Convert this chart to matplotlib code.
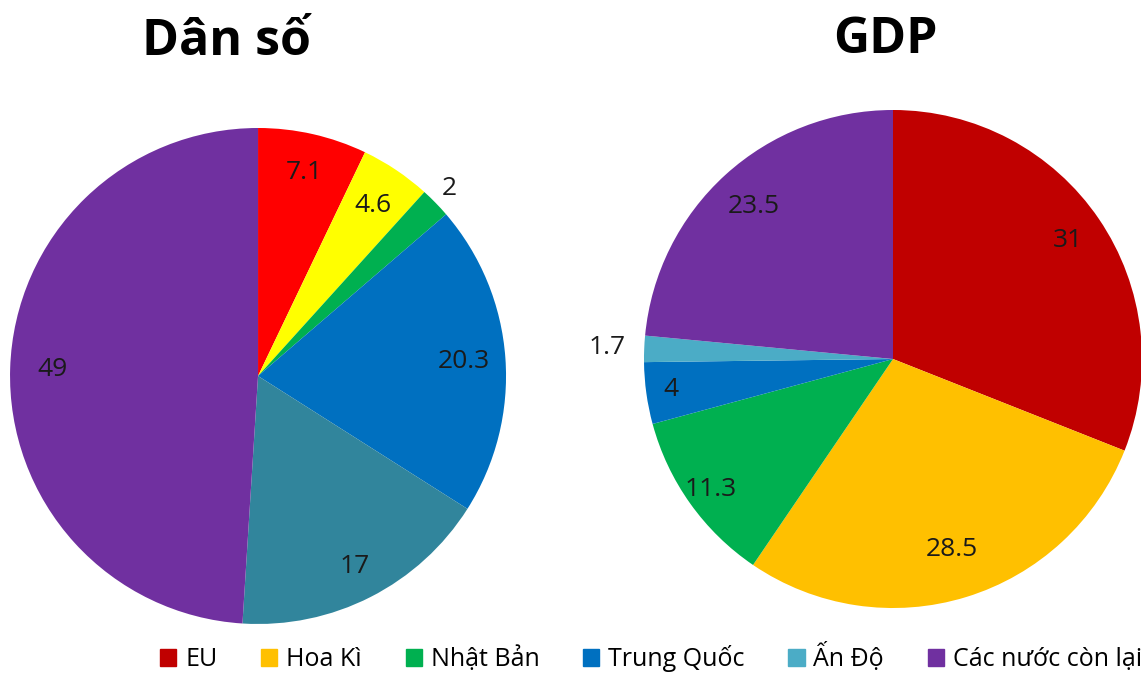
import numpy as np
import matplotlib
matplotlib.use("Agg")
import matplotlib.pyplot as plt
from matplotlib.patches import Patch

plt.rcParams["font.family"] = ["Open Sans", "DejaVu Sans"]

categories = ["EU", "Hoa Kì", "Nhật Bản", "Trung Quốc", "Ấn Độ", "Các nước còn lại"]
dan_so = [7.1, 4.6, 2, 20.3, 17, 49]
gdp = [31, 28.5, 11.3, 4, 1.7, 23.5]
dan_so_labels = ["7.1", "4.6", "2", "20.3", "17", "49"]
gdp_labels = ["31", "28.5", "11.3", "4", "1.7", "23.5"]

colors_left = ["#FF0000", "#FFFF00", "#00B050", "#0070C0", "#31859C", "#7030A0"]
colors_right = ["#C00000", "#FFC000", "#00B050", "#0070C0", "#4BACC6", "#7030A0"]

# khoảng cách nhãn (theo bán kính)
dist_left = [0.84, 0.83, 1.08, 0.83, 0.86, 0.83]
dist_right = [0.85, 0.8, 0.9, 0.9, 1.15, 0.83]

fig = plt.figure(figsize=(11.41, 6.74), dpi=100)
ax1 = fig.add_axes([0.0088, 0.0742, 0.4347, 0.7359])
ax2 = fig.add_axes([0.5644, 0.0979, 0.4365, 0.7389])


def draw_pie(ax, values, labels, colors, dists):
    wedges, _ = ax.pie(values, colors=colors, startangle=90, counterclock=False,
                       wedgeprops=dict(linewidth=0))
    for w, lab, d in zip(wedges, labels, dists):
        ang = np.deg2rad((w.theta1 + w.theta2) / 2)
        ax.text(d * np.cos(ang), d * np.sin(ang), lab, ha="center", va="center",
                fontsize=19, color="#1a1a1a")
    ax.set_xlim(-1, 1)
    ax.set_ylim(-1, 1)
    ax.set_aspect("equal")
    ax.axis("off")


draw_pie(ax1, dan_so, dan_so_labels, colors_left, dist_left)
draw_pie(ax2, gdp, gdp_labels, colors_right, dist_right)

fig.text(226 / 1141, 1 - 42 / 674, "Dân số", ha="center", va="center",
         fontsize=36, fontweight="bold")
fig.text(885 / 1141, 1 - 40 / 674, "GDP", ha="center", va="center",
         fontsize=36, fontweight="bold")

handles = [Patch(color=c) for c in colors_right]
fig.legend(handles, categories, loc="center", bbox_to_anchor=(651 / 1141, 1 - 658 / 674),
           ncol=6, frameon=False, fontsize=18, handlelength=0.65, handleheight=0.65,
           handletextpad=0.35, columnspacing=1.75)

fig.savefig("out.png", dpi=100)
